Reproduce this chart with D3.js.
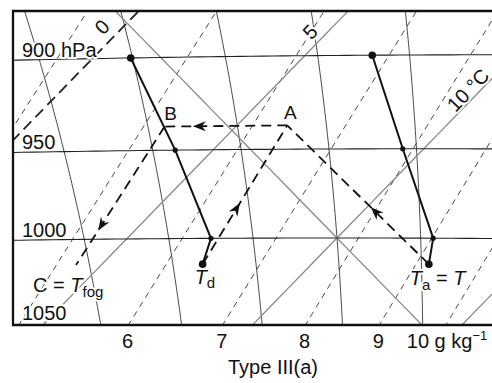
<!DOCTYPE html>
<html>

<head>
    <title>Type III(a) fog on a tephigram</title>
    <script src="https://d3js.org/d3.v7.min.js"></script>
    <style>
        body { margin: 0; background: #fff; }
        text { font-family: "Liberation Sans", Arial, sans-serif; fill: #111; }
    </style>
</head>

<body>
    <script>
        // diagram grid values
        const isobars = [900, 950, 1000];
        const pressureTicks = [900, 950, 1000, 1050];
        const pressureLabels = ["900 hPa", "950", "1000", "1050"];
        const isotherms = [0, 5, 10, 15];            // °C
        const isothermLabels = ["0", "5", "10 °C"];
        const dryAdiabats = [10];                    // potential temperature, °C
        const satAdiabats = [4, 6, 8, 10, 12];       // wet-bulb potential temperature, °C
        const mixingRatios = [4, 5, 6, 7, 8, 9, 10]; // g/kg
        const ratioTicks = [6, 7, 8, 9, 10];
        const ratioLabels = ["6", "7", "8", "9", "10 g kg"];

        // sounding (hPa, °C)
        const levels = [900, 950, 1000, 1015];
        const tempC = [6.6, 9.5, 12.3, 12.8];
        const dewC = [0.9, 4.1, 7.0, 7.4];

        // process points A, B, C (C = fog temperature at the surface)
        const pathNames = ["A", "B", "C"];
        const pathP = [937, 937, 1015];
        const pathT = [6.2, 3.3, 4.4];

        const width = 492;
        const height = 383;
        const frame = { left: 13, top: 11, bottom: 325 };

        // tephigram: temperature and log(theta) axes, both skewed onto the page
        const tempScale = d3.scaleLinear().domain([0, 10]).range([[127, 23], [337, 238]]);
        const thetaScale = d3.scaleLog().domain([283.15, 293.15]).range([[0, 0], [205.4, -211.3]]);

        function proj(t, p) {
            const th = (t + 273.15) * Math.pow(1000 / p, 0.2857);
            const a = tempScale(t).slice();
            const b = thetaScale(th);
            return [a[0] + b[0], a[1] + b[1]];
        }

        // temperature where saturation mixing ratio r (g/kg) is reached at p
        function tMix(r, p) {
            const e = r * p / (622 + r);
            const l = Math.log(e / 6.112);
            return 243.5 * l / (17.67 - l);
        }

        function dTdp(T, p) {
            const es = 6.112 * Math.exp(17.67 * (T - 273.15) / (T - 29.65));
            const rs = 0.622 * es / (p - es);
            return (287.04 * T + 2.501e6 * rs) /
                (p * (1005.7 + 2.501e6 * 2.501e6 * rs * 0.622 / (287.04 * T * T)));
        }

        function moistLine(tw) {
            const run = (dp, pEnd) => {
                const out = [];
                let T = tw + 273.15, p = 1000;
                while (dp < 0 ? p >= pEnd : p <= pEnd) {
                    out.push(proj(T - 273.15, p));
                    const k1 = dTdp(T, p);
                    const k2 = dTdp(T + k1 * dp / 2, p + dp / 2);
                    const k3 = dTdp(T + k2 * dp / 2, p + dp / 2);
                    const k4 = dTdp(T + k3 * dp, p + dp);
                    T += dp * (k1 + 2 * k2 + 2 * k3 + k4) / 6;
                    p += dp;
                }
                return out;
            };
            return run(-2, 860).reverse().concat(run(2, 1080).slice(1));
        }

        const line = d3.line();

        const svg = d3.select("body").append("svg")
            .attr("width", width)
            .attr("height", height);

        svg.append("defs").append("clipPath")
            .attr("id", "plot")
            .append("rect")
            .attr("x", frame.left)
            .attr("y", frame.top)
            .attr("width", width - frame.left)
            .attr("height", frame.bottom - frame.top);

        const grid = svg.append("g").attr("clip-path", "url(#plot)");

        // mixing ratio lines
        const mixPaths = mixingRatios.map(r => d3.range(850, 1101, 5).map(p => proj(tMix(r, p), p)));
        grid.append("g")
            .selectAll("path")
            .data(mixPaths)
            .join("path")
            .attr("d", line)
            .attr("fill", "none")
            .attr("stroke", "#333")
            .attr("stroke-width", 0.9)
            .attr("stroke-dasharray", "6 5");

        // saturated adiabats
        grid.append("g")
            .selectAll("path")
            .data(satAdiabats.map(moistLine))
            .join("path")
            .attr("d", line)
            .attr("fill", "none")
            .attr("stroke", "#333")
            .attr("stroke-width", 0.9);

        // isotherms (0 °C dashed) and dry adiabat
        grid.append("g")
            .selectAll("path")
            .data(isotherms)
            .join("path")
            .attr("d", t => line(d3.range(840, 1111, 10).map(p => proj(t, p))))
            .attr("fill", "none")
            .attr("stroke", t => t === 0 ? "#222" : "#8a8a8a")
            .attr("stroke-width", t => t === 0 ? 1.8 : 1.3)
            .attr("stroke-dasharray", t => t === 0 ? "11 6" : null);

        grid.append("g")
            .selectAll("path")
            .data(dryAdiabats)
            .join("path")
            .attr("d", th => line(d3.range(840, 1111, 10).map(p =>
                proj((th + 273.15) * Math.pow(p / 1000, 0.2857) - 273.15, p))))
            .attr("fill", "none")
            .attr("stroke", "#8a8a8a")
            .attr("stroke-width", 1.3);

        // labels inside the diagram, knocked out of the grid
        const knock = sel => sel.attr("stroke", "#fff")
            .attr("stroke-width", 4)
            .attr("stroke-linejoin", "round")
            .attr("paint-order", "stroke");

        const leftY = p => {
            const pts = d3.range(-15, 25, 0.1).map(t => proj(t, p));
            const i = d3.bisector(d => d[0]).left(pts, frame.left);
            return pts[i][1];
        };

        svg.append("g")
            .selectAll("text")
            .data(pressureTicks)
            .join("text")
            .attr("x", 22)
            .attr("y", p => Math.min(leftY(p) - 3, frame.bottom - 5))
            .attr("font-size", 20)
            .text((p, i) => pressureLabels[i])
            .call(knock);

        const isoLabelPos = [[102, 27], [310, 32], [468, 90]];
        svg.append("g")
            .selectAll("text")
            .data(isothermLabels)
            .join("text")
            .attr("transform", (d, i) => `translate(${isoLabelPos[i][0]},${isoLabelPos[i][1]}) rotate(-46)`)
            .attr("text-anchor", "middle")
            .attr("dominant-baseline", "central")
            .attr("font-size", 20)
            .text(d => d)
            .call(knock);

        const A = proj(pathT[0], pathP[0]);
        const B = proj(pathT[1], pathP[1]);
        const C = proj(pathT[2], pathP[2]);
        const Ta = proj(tempC[3], levels[3]);
        const Td = proj(dewC[3], levels[3]);

        svg.append("text").attr("x", A[0] + 3).attr("y", A[1] - 6)
            .attr("text-anchor", "middle").attr("font-size", 19).text(pathNames[0]).call(knock);
        svg.append("text").attr("x", B[0] + 6).attr("y", B[1] - 7)
            .attr("text-anchor", "middle").attr("font-size", 19).text(pathNames[1]).call(knock);

        const cLab = svg.append("text").attr("x", C[0] - 43).attr("y", C[1] + 27)
            .attr("font-size", 20).call(knock);
        cLab.append("tspan").text(pathNames[2] + " = ");
        cLab.append("tspan").attr("font-style", "italic").text("T");
        cLab.append("tspan").attr("font-size", 15).attr("dy", 5).text("fog");

        const dLab = svg.append("text").attr("x", Td[0] - 8).attr("y", Td[1] + 20)
            .attr("font-size", 20).call(knock);
        dLab.append("tspan").attr("font-style", "italic").text("T");
        dLab.append("tspan").attr("font-size", 15).attr("dy", 4).text("d");

        const aLab = svg.append("text").attr("x", Ta[0] - 19).attr("y", Ta[1] + 21)
            .attr("font-size", 20).call(knock);
        aLab.append("tspan").attr("font-style", "italic").text("T");
        aLab.append("tspan").attr("font-size", 15).attr("dy", 5).text("a");
        aLab.append("tspan").attr("dy", -5).text(" = ");
        aLab.append("tspan").attr("font-style", "italic").text("T");

        // isobars
        grid.append("g")
            .selectAll("path")
            .data(isobars)
            .join("path")
            .attr("d", p => line(d3.range(-15, 25.01, 0.25).map(t => proj(t, p))))
            .attr("fill", "none")
            .attr("stroke", "#222")
            .attr("stroke-width", 1.1);

        // temperature and dew point soundings
        const tempPts = levels.map((p, i) => proj(tempC[i], p));
        const dewPts = levels.map((p, i) => proj(dewC[i], p));
        [tempPts, dewPts].forEach(pts => {
            svg.append("path")
                .attr("d", line(pts))
                .attr("fill", "none")
                .attr("stroke", "#111")
                .attr("stroke-width", 2);
            svg.append("g")
                .selectAll("circle")
                .data(pts)
                .join("circle")
                .attr("cx", d => d[0])
                .attr("cy", d => d[1])
                .attr("r", (d, i) => (i === 0 || i === pts.length - 1) ? 3.8 : 2.6)
                .attr("fill", "#111");
        });

        // process path with arrows
        const segs = [[Ta, A, 0.41], [Td, A, 0.44], [A, B, 0.77], [B, C, 0.75]];
        segs.forEach(([a, b, f]) => {
            svg.append("path")
                .attr("d", line([a, b]))
                .attr("fill", "none")
                .attr("stroke", "#111")
                .attr("stroke-width", 1.8)
                .attr("stroke-dasharray", "10 6");
            const x = a[0] + (b[0] - a[0]) * f;
            const y = a[1] + (b[1] - a[1]) * f;
            const ang = Math.atan2(b[1] - a[1], b[0] - a[0]) * 180 / Math.PI;
            svg.append("path")
                .attr("d", "M0,0L-13,-5L-9,0L-13,5Z")
                .attr("transform", `translate(${x},${y}) rotate(${ang})`)
                .attr("fill", "#111");
        });

        // frame
        svg.append("path")
            .attr("d", `M${width},${frame.top}H${frame.left}V${frame.bottom}H${width}`)
            .attr("fill", "none")
            .attr("stroke", "#111")
            .attr("stroke-width", 2.3);

        // mixing ratio labels under the frame
        const bottomX = r => {
            const pts = d3.range(1000, 1101, 1).map(p => proj(tMix(r, p), p));
            const i = d3.bisector(d => d[1]).left(pts, frame.bottom);
            return pts[i][0];
        };
        const lastIdx = ratioTicks.length - 1;
        const tick = svg.append("g")
            .selectAll("text")
            .data(ratioTicks)
            .join("text")
            .attr("x", (r, i) => i === lastIdx ? bottomX(r) - 39 : bottomX(r))
            .attr("y", 348)
            .attr("text-anchor", (r, i) => i === lastIdx ? "start" : "middle")
            .attr("font-size", 20)
            .text((r, i) => ratioLabels[i]);
        tick.filter((r, i) => i === lastIdx)
            .append("tspan")
            .attr("font-size", 13)
            .attr("dy", -8)
            .text("−1");

        svg.append("text")
            .attr("x", 273)
            .attr("y", 374)
            .attr("text-anchor", "middle")
            .attr("font-size", 20)
            .text("Type III(a)");
    </script>
</body>

</html>
